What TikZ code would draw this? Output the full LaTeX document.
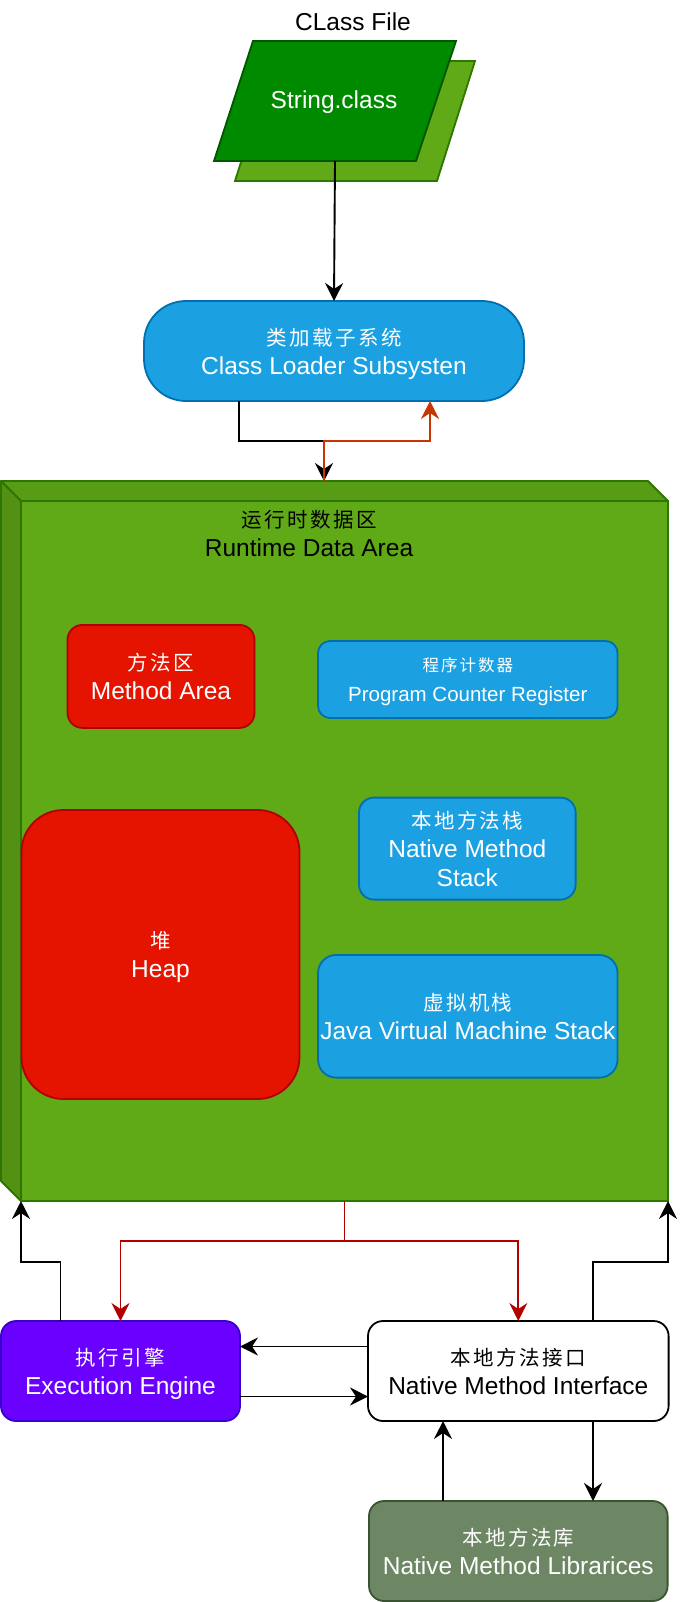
\documentclass[tikz,border=0pt]{standalone}
\usepackage{fontspec}
\setmainfont{Liberation Sans}
\newfontfamily\cjk{Noto Sans CJK SC}[LetterSpace=12]
\usetikzlibrary{arrows.meta}

\definecolor{fileFront}{HTML}{008A00}
\definecolor{fileFrontLine}{HTML}{005700}
\definecolor{leaf}{HTML}{60A917}
\definecolor{leafLine}{HTML}{2D7600}
\definecolor{sky}{HTML}{1BA1E2}
\definecolor{skyLine}{HTML}{006EAF}
\definecolor{scarlet}{HTML}{E51400}
\definecolor{scarletLine}{HTML}{B20000}
\definecolor{violet}{HTML}{6A00FF}
\definecolor{violetLine}{HTML}{3700CC}
\definecolor{olive}{HTML}{6D8764}
\definecolor{oliveLine}{HTML}{3A5431}
\definecolor{rust}{HTML}{C73500}
\definecolor{darkred}{HTML}{B20000}

% Chinese label line, set a little smaller than the Latin line below it
\newcommand\zhline[2][20.5]{{\cjk\fontsize{#1}{29}\selectfont #2}}

\begin{document}
\begin{tikzpicture}[x=1pt,y=-1pt,
  box/.style={draw, line width=1.8pt, rounded corners=15pt, inner sep=0pt,
    outer sep=0pt, align=center, text=white, text depth=0pt,
    font=\fontsize{24.5}{29}\selectfont},
  smallbox/.style={box, font=\fontsize{20.5}{29.4}\selectfont},
  label/.style={inner sep=0pt, align=center, font=\fontsize{24.5}{29}\selectfont},
  tip/.style={-{Stealth[length=18pt,width=18pt,inset=6pt]}},
  conn/.style={draw=black, line width=1.9pt, tip},
  upconn/.style={draw=rust, line width=1.9pt, tip},
  downconn/.style={draw=darkred, line width=1.9pt, tip}
]
\useasboundingbox (0,0) rectangle (686,1602);

% ---- class file: two stacked parallelograms ----
\filldraw[fill=leaf, draw=leafLine, line width=1.8pt]
  (273,61) -- (475,61) -- (437,181) -- (235,181) -- cycle;
\filldraw[fill=fileFront, draw=fileFrontLine, line width=1.8pt]
  (253,41) -- (456,41) -- (416,161) -- (214,161) -- cycle;
\node[label] (filetitle) at (353,22) {CLass File};
\node[label, text=white] (file) at (334,102) {String.class};
\coordinate (filebot) at (335,161);

% ---- class loader ----
\node[box, fill=sky, draw=skyLine, rounded corners=42pt,
      minimum width=380pt, minimum height=100pt] (loader) at (334,351)
  {\zhline{类加载子系统}\\Class Loader Subsysten};

% ---- runtime data area (cube) ----
\filldraw[fill=leaf!92!black, draw=leafLine, line width=1.8pt, line join=round]
  (1,481) -- (648,481) -- (668,501) -- (21,501) -- cycle;
\filldraw[fill=leaf!86!black, draw=leafLine, line width=1.8pt, line join=round]
  (1,481) -- (21,501) -- (21,1201) -- (1,1181) -- cycle;
\node[draw=leafLine, fill=leaf, line width=1.8pt, inner sep=0pt, outer sep=0pt,
      minimum width=647pt, minimum height=700pt] (rda) at (344.5,851) {};
\coordinate (rdatop) at (324,481);
\node[label] (rdatitle) at (309,533)
  {{\cjk\fontsize{20.5}{29}\selectfont 运行时数据区}\\Runtime Data Area};

\node[box, fill=scarlet, draw=scarletLine,
      minimum width=187pt, minimum height=103pt] (method) at (161,676.4)
  {\zhline{方法区}\\Method Area};
\node[smallbox, fill=sky, draw=skyLine, rounded corners=12pt,
      minimum width=299.5pt, minimum height=77pt] (pc) at (467.8,679.5)
  {\zhline[16.5]{程序计数器}\\Program Counter Register};
\node[box, fill=sky, draw=skyLine,
      minimum width=216.6pt, minimum height=102pt] (nms) at (467.3,848.6)
  {\zhline{本地方法栈}\\Native Method\\Stack};
\node[box, fill=scarlet, draw=scarletLine, rounded corners=42pt,
      minimum width=278pt, minimum height=289pt] (heap) at (160.5,954.5)
  {\zhline{堆}\\Heap};
\node[box, fill=sky, draw=skyLine, rounded corners=18pt,
      minimum width=299.5pt, minimum height=122.6pt] (jvm) at (467.8,1016.3)
  {\zhline{虚拟机栈}\\Java Virtual Machine Stack};

% ---- execution side ----
\node[box, fill=violet, draw=violetLine,
      minimum width=239pt, minimum height=100pt] (ee) at (120.5,1371)
  {\zhline{执行引擎}\\Execution Engine};
\node[box, fill=white, draw=black, text=black,
      minimum width=300.6pt, minimum height=100pt] (nmi) at (518.3,1371)
  {\zhline{本地方法接口}\\Native Method Interface};
\node[box, fill=olive, draw=oliveLine,
      minimum width=298.6pt, minimum height=100pt] (nml) at (518.3,1551)
  {\zhline{本地方法库}\\Native Method Librarices};

% ---- connectors ----
\draw[conn] (filebot) -- (loader.north);
\draw[conn] ([xshift=-95pt]loader.south) |- (324,441) -- (rdatop);
\draw[upconn] (rdatop) -- (324,441) -| ([xshift=96pt]loader.south);

\draw[downconn] (rda.south) -- ++(0,40) -| (ee.north);
\draw[downconn] (rda.south) -- ++(0,40) -| (nmi.north);

\draw[conn] ([xshift=-60pt]ee.north) -- ++(0,-59.4) -| (rda.south west);
\draw[conn] ([xshift=74.7pt]nmi.north) -- ++(0,-59.4) -| (rda.south east);

\draw[conn] ([yshift=24.5pt]nmi.west) -- ([yshift=24.5pt]ee.east);
\draw[conn] ([yshift=-25.5pt]ee.east) -- ([yshift=-25.5pt]nmi.west);

\draw[conn] ([xshift=-75.3pt]nml.north) -- ([xshift=-75.3pt]nmi.south);
\draw[conn] ([xshift=74.7pt]nmi.south) -- ([xshift=74.7pt]nml.north);
\end{tikzpicture}
\end{document}
